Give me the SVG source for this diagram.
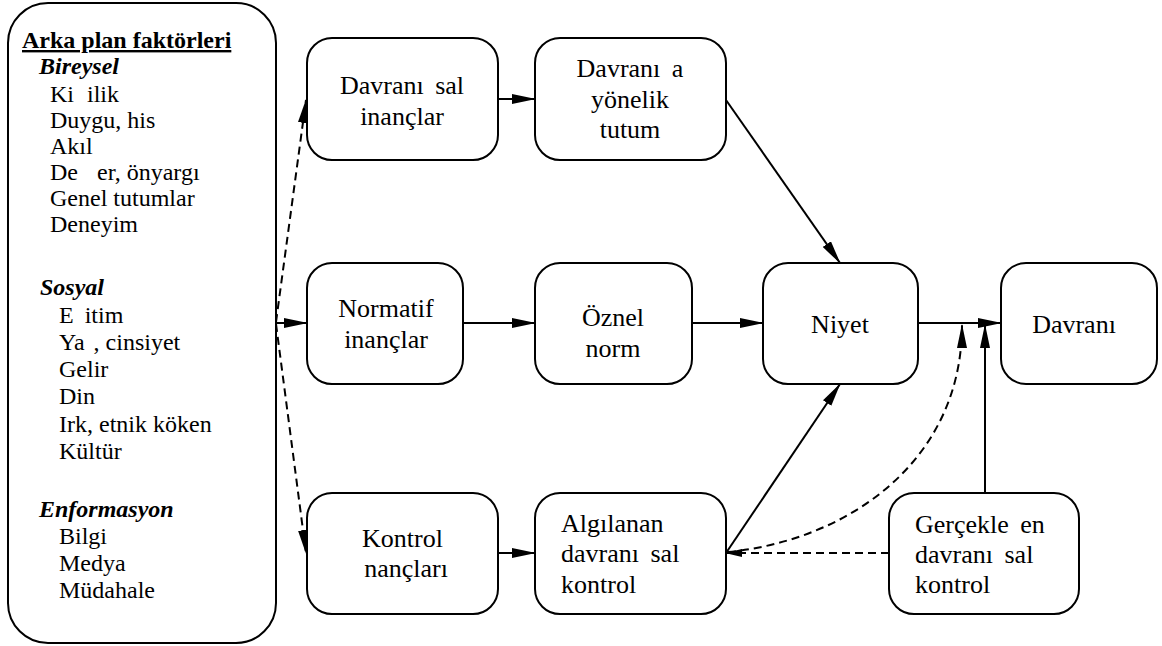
<svg xmlns="http://www.w3.org/2000/svg" width="1162" height="646" viewBox="0 0 1162 646" font-family="'Liberation Serif', 'DejaVu Serif', serif">
<style>
text{font-family:'Liberation Serif','DejaVu Serif',serif;fill:#000}
.lt{font-size:24px}
.bt{font-size:26px}
.c{text-anchor:middle}
.hd{font-weight:bold;text-decoration:underline}
.bi{font-weight:bold;font-style:italic}
.box{fill:#fff;stroke:#000;stroke-width:2}
.ln{fill:none;stroke:#000;stroke-width:2}
.ds{stroke-dasharray:8 5}
</style>
<defs>
<marker id="ah" viewBox="0 0 24 10" refX="23" refY="5" markerWidth="24" markerHeight="10" markerUnits="userSpaceOnUse" orient="auto"><path d="M0,0 L24,5 L0,10 z" fill="#000"/></marker>
<marker id="ahs" viewBox="0 0 17 8" refX="16" refY="4" markerWidth="17" markerHeight="8" markerUnits="userSpaceOnUse" orient="auto"><path d="M0,0 L17,4 L0,8 z" fill="#000"/></marker>
</defs>
<g id="connectors">
<path class="ln ds" d="M276,322 L306,100" marker-end="url(#ah)"/>
<path class="ln" d="M276,323 H307" marker-end="url(#ah)"/>
<path class="ln ds" d="M276,324 L306,553" marker-end="url(#ah)"/>
<path class="ln" d="M498,99 H535" marker-end="url(#ah)"/>
<path class="ln" d="M463,323 H535" marker-end="url(#ah)"/>
<path class="ln" d="M692,323 H763" marker-end="url(#ah)"/>
<path class="ln" d="M918,323 H1001" marker-end="url(#ah)"/>
<path class="ln" d="M726,100 L840,263" marker-end="url(#ah)"/>
<path class="ln" d="M498,553 H535" marker-end="url(#ah)"/>
<path class="ln" d="M726,553 L840,384" marker-end="url(#ah)"/>
<path class="ln ds" d="M889,553 H726" marker-end="url(#ahs)"/>
<path class="ln ds" d="M728,552 C850,540 962,460 962,325" marker-end="url(#ah)"/>
<path class="ln" d="M985,493 V325" marker-end="url(#ah)"/>
</g>
<g id="arka-plan">
<rect class="box" x="8" y="3" width="268" height="640" rx="40"/>
<text class="lt hd" x="22" y="48">Arka plan faktörleri</text>
<text class="lt bi" x="39" y="74">Bireysel</text>
<text class="lt" x="50" y="102">Ki <tspan dx="7">ilik</tspan></text>
<text class="lt" x="50" y="128">Duygu, his</text>
<text class="lt" x="50" y="154">Akıl</text>
<text class="lt" x="50" y="180">De <tspan dx="13">er, önyargı</tspan></text>
<text class="lt" x="50" y="206">Genel tutumlar</text>
<text class="lt" x="50" y="232">Deneyim</text>
<text class="lt bi" x="40" y="295">Sosyal</text>
<text class="lt" x="59" y="323">E <tspan dx="5">itim</tspan></text>
<text class="lt" x="59" y="350">Ya <tspan dx="3">, cinsiyet</tspan></text>
<text class="lt" x="59" y="377">Gelir</text>
<text class="lt" x="59" y="404">Din</text>
<text class="lt" x="59" y="432">Irk, etnik köken</text>
<text class="lt" x="59" y="459">Kültür</text>
<text class="lt bi" x="39" y="517">Enformasyon</text>
<text class="lt" x="59" y="544">Bilgi</text>
<text class="lt" x="59" y="571">Medya</text>
<text class="lt" x="59" y="598">Müdahale</text>
</g>
<g id="davranissal-inanclar">
<rect class="box" x="307" y="38" width="191" height="122" rx="25"/>
<text class="bt c" x="402" y="94">Davranı <tspan dx="5">sal</tspan></text>
<text class="bt c" x="402" y="125">inançlar</text>
</g>
<g id="davranisa-yonelik-tutum">
<rect class="box" x="535" y="38" width="191" height="122" rx="25"/>
<text class="bt c" x="630" y="77">Davranı <tspan dx="5">a</tspan></text>
<text class="bt c" x="630" y="108">yönelik</text>
<text class="bt c" x="630" y="138">tutum</text>
</g>
<g id="normatif-inanclar">
<rect class="box" x="307" y="263" width="156" height="121" rx="25"/>
<text class="bt c" x="386" y="317">Normatif</text>
<text class="bt c" x="386" y="348">inançlar</text>
</g>
<g id="oznel-norm">
<rect class="box" x="535" y="263" width="157" height="121" rx="25"/>
<text class="bt c" x="613" y="326">Öznel</text>
<text class="bt c" x="613" y="357">norm</text>
</g>
<g id="niyet">
<rect class="box" x="763" y="263" width="155" height="121" rx="25"/>
<text class="bt c" x="840" y="333">Niyet</text>
</g>
<g id="davranis">
<rect class="box" x="1001" y="263" width="156" height="121" rx="25"/>
<text class="bt c" x="1074" y="333">Davranı</text>
</g>
<g id="kontrol-inanclari">
<rect class="box" x="307" y="493" width="191" height="121" rx="25"/>
<text class="bt c" x="402.5" y="547">Kontrol</text>
<text class="bt c" x="406" y="577">nançları</text>
</g>
<g id="algilanan-kontrol">
<rect class="box" x="535" y="493" width="191" height="121" rx="25"/>
<text class="bt" x="561" y="532">Algılanan</text>
<text class="bt" x="561" y="562">davranı <tspan dx="5">sal</tspan></text>
<text class="bt" x="561" y="593">kontrol</text>
</g>
<g id="gerceklesen-kontrol">
<rect class="box" x="889" y="493" width="190" height="121" rx="25"/>
<text class="bt" x="915" y="533">Gerçekle <tspan dx="5">en</tspan></text>
<text class="bt" x="915" y="563">davranı <tspan dx="5">sal</tspan></text>
<text class="bt" x="915" y="593">kontrol</text>
</g>
</svg>
